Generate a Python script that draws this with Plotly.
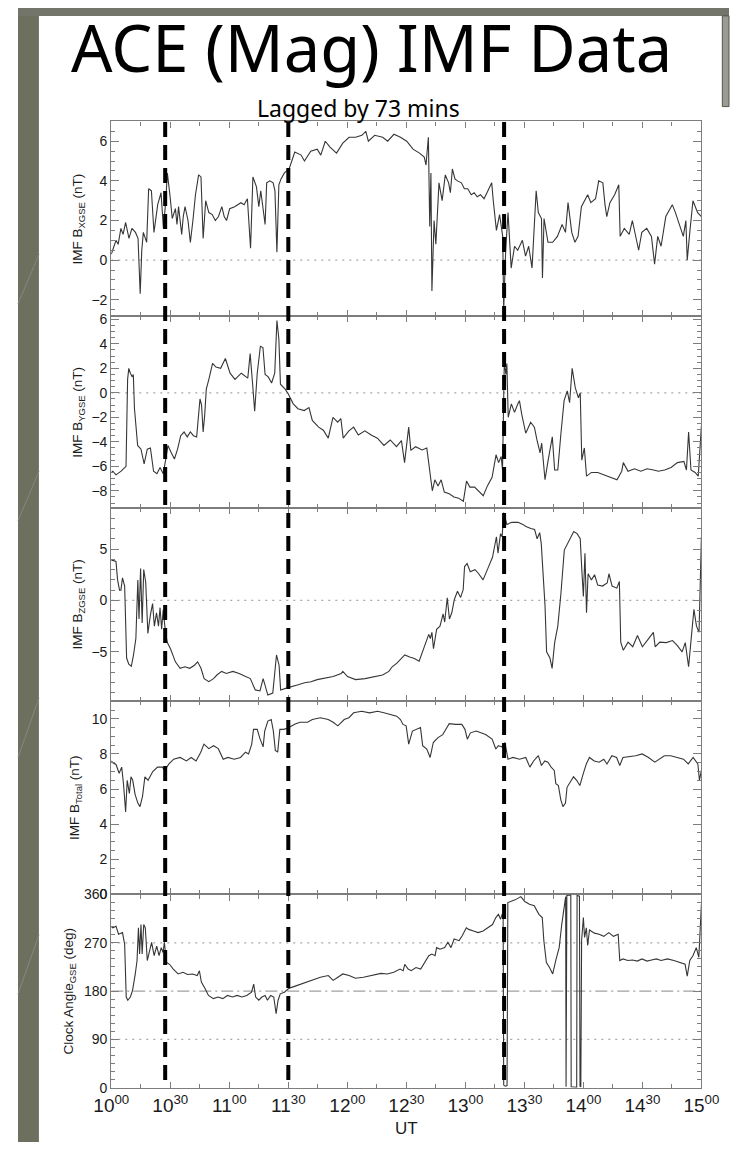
import plotly.graph_objects as go

# ---- IMF data, time in minutes after 10:00 UT (lagged by 73 min) ----
t_bx = [0, 0.8, 2.4, 3.5, 4.9, 6, 7.3, 9, 10.5, 12.3, 13.6, 14.7, 15.5, 16.3, 18, 19, 20.4, 21.7,
        23.6, 25.3, 26.5, 27.7, 28.5, 29.8, 31, 32.6, 33.4, 34.2, 35.0, 35.8, 36.6, 37.5, 39, 40.2,
        41.5, 42.8, 44.4, 45.6, 46.7, 48, 49.6, 51.3, 52.9, 54.5, 56.2, 57.4, 58.6, 60.2, 62.7,
        65.9, 67.5, 69.2, 70.8, 72, 73.8, 75, 76, 77.4, 78.2, 79, 80.6, 82.3, 83.2, 84.2, 85.2,
        86.3, 88, 90.4, 91.7, 93.3, 96.5, 98.2, 101.4, 104.7, 106.5, 108.8, 111.2, 114.5, 117.7,
        120.9, 124.2, 127.4, 129.4, 130.7, 133.9, 138, 140.5, 143.7, 147, 150.2, 153.4, 156.7,
        159.1, 160, 161.2, 161.9, 162.5, 163, 164.1, 165, 166.6, 168.2, 169.8, 171.5, 172.4,
        173.4, 174.7, 176, 178, 179.5, 181.2, 183, 184.5, 186, 187.7, 189.5, 191, 193.4, 194.2,
        195.8, 197.4, 199.0, 199.5, 200.5, 201.7, 203.3, 205, 206.6, 209, 210.6, 212.2, 213.9,
        216, 217.1, 218.7, 219.2, 220, 222, 224.4, 226.8, 229.2, 230.9, 232.2, 234.1, 235.7,
        237.3, 239, 240.6, 242.2, 243.8, 246.2, 247.8, 249.9, 251, 251.9, 253.5, 255.9, 258,
        258.7, 260.8, 263.3, 264.9, 266.5, 268.1, 269.7, 272.2, 274.6, 276.2, 277.8, 279.5,
        281.9, 285.2, 286.8, 289.2, 290.8, 292.1, 292.8, 294.1, 295.7, 298.1, 300]
bx = [0.3, 0.5, 1.0, 0.8, 1.6, 1.3, 1.9, 1.1, 1.6, 1.4, 1.1, -1.7, 0.5, 1.4, 0.9, 3.6, 3.5, 1.4,
      2.8, 3.4, 1.6, 3.0, 4.4, 3.3, 2.1, 2.6, 1.8, 2.7, 2.0, 1.3, 2.2, 2.7, 2.0, 0.9,
      2.0, 3.3, 4.3, 4.2, 1.1, 3.0, 2.4, 2.3, 2.0, 2.2, 2.7, 2.2, 2.0, 2.6, 2.7,
      2.9, 2.8, 3.1, 0.6, 4.2, 3.7, 2.7, 3.5, 2.5, 1.8, 3.9, 4.0, 3.9, 3.5, 0.4, 3.8,
      4.1, 4.4, 4.6, 5.0, 5.45, 5.3, 5.0, 5.5, 5.6, 5.3, 6.0, 5.7, 5.4, 5.9,
      6.2, 6.2, 6.3, 6.5, 6.0, 6.3, 6.2, 6.0, 6.35, 6.2, 6.0, 5.6, 5.4,
      5.2, 4.8, 6.2, 1.7, 4.4, -1.55, 2.0, 0.8, 3.9, 3.0, 4.3, 3.9, 3.4,
      4.6, 4.1, 4.0, 3.9, 3.6, 3.6, 3.3, 3.4, 3.2, 3.3, 3.1, 3.4, 3.9, 3.0,
      1.5, 2.3, 1.2, -2.5, 0.5, 2.4, -0.4, 0.7, 0.5, 1.0, 0.2, 0.7, -0.4,
      3.5, 2.4, 2.1, -0.9, 2.1, 0.9, 0.9, 1.2, 1.8, 1.4, 2.9, 1.4, 0.9,
      1.2, 2.7, 3.0, 3.3, 2.9, 3.1, 4.0, 3.9, 2.8, 2.2, 2.9, 3.3, 3.8,
      1.2, 1.6, 1.3, 2.0, 1.2, 0.5, 1.4, 1.6, 1.2, -0.2, 1.2, 0.7,
      2.2, 2.8, 2.4, 1.6, 1.2, 2.0, 0.0, 1.4, 3.0, 2.4, 2.2]

t_by = [0, 0.8, 2.4, 5, 7.5, 8.3, 8.9, 9.7, 10.7, 11.2, 11.8, 13.4, 15.1, 16.7, 18.3, 19.9, 21.5,
        23.2, 24.8, 26.4, 27.5, 28.8, 30.5, 32.1, 33.7, 35.3, 37, 38.6, 40.2, 41.8, 43.4, 45.1,
        45.9, 46.7, 47.5, 48.3, 49.6, 51.5, 53.2, 55.6, 58, 60.4, 62.9, 66.1, 69.4, 70.6, 71.8,
        72.9, 74.2, 75.8, 77.1, 78.2, 79.8, 81.5, 83.1, 84.2, 85.2, 86.0, 88.4, 90, 92.5, 94.9,
        98.1, 100.5, 102.2, 105.4, 107.8, 110.3, 112.7, 115.1, 116.7, 117.9, 120.8, 123.2,
        125.6, 128.9, 132.1, 135.3, 138.6, 141.8, 145, 147.5, 149.1, 149.9, 151.2, 152.3,
        154.7, 158, 160.4, 161.2, 162.5, 163.2, 164.5, 166.1, 167.7, 169.3, 171.8, 174.2,
        176.6, 179, 180.6, 182.3, 184.7, 187.1, 189.1, 191.2, 193.6, 195.6, 196.9, 198.2,
        198.9, 199.8, 200.6, 201.1, 201.8, 203.4, 205, 206.7, 207.5, 208.6, 210.7, 213.2,
        215.1, 216.4, 218, 218.8, 220.5, 222.1, 224.2, 225.4, 227, 228.6, 230.2, 231.8, 233,
        234.3, 235.9, 237.5, 238.4, 239.2, 240.5, 241.6, 244.1, 247.3, 250.6, 253.8, 257.1,
        259.5, 260.3, 262.7, 266, 269.2, 272.4, 275.7, 278.1, 281.3, 284.6, 287.8, 291.1,
        292.4, 293.5, 294.7, 296.8, 298.4, 300]
by = [-6.5, -6.4, -6.7, -6.4, -6.0, 1.1, 2.0, 1.6, 1.3, 1.5, -1.3, -4.3, -4.6, -5.8, -4.6, -4.5, -6.4,
      -6.6, -6.1, -6.6, -5.6, -4.3, -4.9, -5.4, -4.6, -3.5, -3.2, -3.6, -3.2, -3.5, -3.6, -0.5,
      -1.0, -3.2, -1.8, 0.3, 1.1, 2.4, 2.1, 2.0, 2.8, 1.6, 1.1, 1.6, 1.2, 3.2, 0.8,
      -1.5, 1.6, 3.8, 3.7, 1.5, 1.3, 0.8, 1.6, 5.9, 4.4, 0.7, 0.3, -0.1, -0.9, -1.3,
      -1.45, -1.2, -2.25, -2.8, -3.05, -3.7, -2.0, -2.4, -2.1, -3.7, -3.1, -2.8,
      -3.45, -3.1, -3.45, -3.7, -4.3, -3.85, -4.4, -3.9, -5.7, -4.4, -2.8, -4.7,
      -4.4, -4.66, -4.5, -5.5, -7.1, -8.0, -7.1, -7.6, -7.1, -8.1, -8.25, -8.5,
      -8.6, -8.85, -7.2, -7.7, -7.7, -8.1, -8.4, -7.6, -6.9, -5.06, -5.7, -5.2,
      -6.3, 2.57, 1.5, 2.4, -2.0, -0.9, -1.6, -0.9, -0.64, -1.7, -3.3, -2.4,
      -2.8, -3.85, -4.9, -4.1, -7.1, -5.5, -3.6, -6.3, -6.3, -3.3, -0.64, 0.16, -0.8,
      2.0, 0.4, -0.4, 0.0, -5.5, -4.5, -6.8, -6.5, -6.5, -6.7, -6.9, -7.1,
      -6.4, -5.7, -6.4, -6.2, -6.4, -6.2, -6.3, -6.4, -6.3, -6.1, -5.7, -5.6,
      -6.3, -3.2, -6.3, -6.5, -6.8, -2.7]

t_bz = [0, 0.8, 2.4, 3.2, 4.2, 4.9, 5.7, 6.8, 7.8, 8.9, 10.2, 11.3, 12.5, 13.5, 14.1, 14.9, 15.7,
        16.5, 17.5, 18.6, 19.9, 21, 21.9, 23, 24, 24.8, 25.6, 26.4, 27.6, 28.5, 30.1, 32.6, 35,
        37.4, 39.9, 42.3, 43.9, 45.6, 47.2, 49.6, 52, 53.7, 56.1, 58.5, 61.8, 65, 68.3, 70.7,
        73.2, 75.6, 77.2, 78, 79.6, 82.1, 84, 85.3, 86.1, 89.4, 91.8, 95, 98.3, 101.5, 104.7,
        108, 112.8, 116.9, 117.7, 120.1, 124.2, 129, 133.9, 137.9, 141.1, 142.8, 145.2, 147.6,
        149.2, 151.7, 154.1, 156.5, 158.1, 159.8, 161.4, 162.2, 163, 163.8, 165.4, 167.1,
        168.7, 169.5, 170.8, 171.9, 173.1, 174.4, 176, 177.6, 178.9, 179.6, 180.9, 182.5,
        184.9, 186.6, 189, 191.4, 193.8, 195.8, 196.6, 197.9, 198.7, 199.5, 201.1, 203.6,
        206.8, 209.2, 210.8, 213.3, 215.2, 216.5, 217.8, 218.6, 219.4, 220.5, 221.3, 223,
        224.1, 225.4, 227, 228.6, 230.3, 231.9, 233.5, 235.1, 236.8, 238.4, 239.2, 240,
        240.8, 241.6, 242.4, 244.1, 245.7, 247.3, 249.7, 252.1, 253, 254.6, 257, 258.3, 259,
        260.3, 262.7, 265.1, 267.5, 270, 272.4, 275.6, 276.5, 278.9, 282.1, 285.3, 287.8,
        290.2, 291.8, 293.5, 295.1, 296.2, 297.5, 298.8, 300]
bz = [3.9, 3.9, 3.8, 2.0, 1.0, 1.0, 2.2, 1.4, -5.6, -6.2, -6.4, -5.3, -3.7, 2.0, -1.8, 3.1, -2.2,
      3.0, 1.8, -3.2, -1.4, -0.3, -2.5, -1.2, -2.5, -0.7, -2.8, -0.9, -3.2, -4.1, -4.7, -5.97, -6.6,
      -6.45, -6.6, -6.3, -5.97, -6.6, -7.6, -7.9, -7.6, -7.25, -6.9, -7.1, -6.9, -7.1, -7.4, -7.6,
      -8.7, -8.8, -7.6, -8.2, -9.2, -9.0, -5.3, -6.3, -8.7, -8.5, -8.4, -8.2, -8.0, -7.9, -7.7,
      -7.6, -7.4, -7.1, -6.9, -7.4, -7.7, -7.6, -7.4, -7.25, -6.9, -6.45, -6.1, -5.65,
      -5.3, -5.5, -5.65, -5.9, -5.0, -4.05, -3.3, -3.7, -3.1, -4.7, -2.8, -2.5,
      -1.3, -2.1, 0.26, -1.8, -1.2, 0.1, 0.9, 0.3, 1.05, 3.3, 3.6, 2.8,
      3.0, 2.65, 2.0, 3.1, 4.2, 6.2, 4.6, 6.5, 6.2, 8.55, 7.4, 7.6,
      7.6, 7.4, 7.2, 7.0, 6.9, 6.0, 6.6, 5.5, 3.0, -0.5, -5.0, -5.6,
      -6.6, -4.1, -2.5, 0.7, 4.9, 5.5, 6.2, 6.7, 6.5, 6.0, 3.0, 0.4,
      4.6, -1.2, 2.6, 2.0, 2.5, 1.5, 1.4, 1.7, 2.6, 1.4, 1.2, 1.85, -4.05,
      -4.85, -4.05, -4.5, -3.4, -4.5, -3.9, -3.1, -4.5, -4.05, -4.1, -3.9, -4.4,
      -5.0, -4.1, -6.45, -3.1, -0.86, -2.5, -3.1, 6.2]

t_bt = [0, 0.8, 2.4, 4, 5.3, 6.2, 7.3, 8.1, 9.2, 10, 10.9, 12.1, 13.5, 14.6, 15.9, 17.1, 18.7, 21.1,
        23.5, 26, 27.1, 29.3, 31.7, 35, 38.2, 40.6, 43.1, 45.5, 47.1, 49.6, 52, 54.4, 56.9, 59.3,
        62.5, 65.7, 68.2, 69.8, 71.4, 72.3, 74.2, 75.5, 77.2, 78, 79.6, 81.3, 82.4, 83.4, 84.6,
        85.7, 87.8, 90.3, 93.5, 95.9, 99.8, 102.2, 106.3, 110.3, 112.8, 115.2, 118.4, 120.8,
        123.2, 127.3, 131.3, 135.4, 138.6, 141.8, 145.1, 147, 148.3, 149.9, 151.2, 153.1,
        155.5, 157.2, 158.3, 160.4, 162.1, 163.7, 166.1, 168.5, 170.1, 171.8, 175, 178.2,
        179.8, 181, 182.6, 185.5, 187.9, 190.3, 193.6, 195.5, 196.8, 198.5, 200.1, 201.7,
        204.2, 207.5, 210.7, 212.8, 214.7, 217.1, 218.7, 220.4, 222, 223.6, 225.2, 226,
        227.3, 228.5, 229.6, 230.9, 231.7, 233.4, 235, 236.6, 238.2, 239.9, 241.5, 243.1,
        245.5, 248, 250.4, 252, 254.5, 256.9, 258.5, 260.1, 263.4, 266.6, 269.9, 273.1,
        276.3, 278.8, 281.2, 284.4, 287.7, 290.9, 293.3, 295.8, 298.2, 299, 300]
bt = [7.6, 7.5, 7.4, 6.9, 7.25, 6.3, 4.7, 6.5, 5.75, 6.7, 6.5, 5.7, 5.2, 5.0, 5.6, 6.7, 6.5, 7.0,
      7.25, 7.25, 7.06, 7.43, 7.7, 7.8, 7.6, 7.8, 7.6, 8.1, 8.56, 8.3, 8.47, 8.3, 7.7, 7.8,
      7.7, 7.8, 8.1, 8.0, 8.56, 9.4, 9.4, 8.9, 8.4, 9.3, 9.87, 9.96, 9.3, 8.2, 8.1,
      9.4, 9.4, 9.5, 9.7, 9.8, 9.8, 9.96, 10.06, 9.96, 9.8, 9.6, 9.96, 10.06,
      10.34, 10.43, 10.34, 10.43, 10.34, 10.24, 10.15, 9.96, 9.68, 9.6, 8.56, 9.3,
      9.4, 9.5, 8.47, 8.28, 7.8, 8.65, 8.93, 9.1, 9.4, 9.72, 9.68, 9.68,
      9.4, 8.84, 9.2, 9.3, 9.2, 9.1, 8.84, 8.28, 8.47, 8.4, 8.65, 7.7,
      7.8, 7.7, 7.8, 7.25, 7.6, 7.9, 7.34, 7.6, 7.53, 7.25, 7.06, 6.3,
      6.2, 5.4, 5.0, 5.2, 6.1, 6.4, 6.7, 6.5, 6.2, 6.87, 7.43, 7.8,
      7.6, 7.53, 7.7, 7.43, 7.9, 7.8, 7.34, 7.8, 7.85, 7.9, 8.0, 7.8,
      7.53, 7.7, 7.9, 7.9, 7.8, 7.7, 7.43, 7.8, 7.43, 6.5, 7.06]

t_ca = [0, 0.8, 2.4, 3.7, 5.7, 6.8, 7.6, 8.4, 9.7, 10.8, 12.2, 13.1, 13.8, 14.4, 15.1, 15.7, 16.5,
        17.3, 18.3, 19.4, 20.5, 21.8, 23.1, 24.3, 25.4, 26.3, 27, 28, 29.6, 31.5, 34, 36.4, 38.8,
        41.3, 43.7, 44.8, 45.8, 47.8, 49.4, 51.9, 54.3, 56.7, 59.1, 61.6, 64, 66.4, 68.9, 71.3,
        72.4, 73.4, 75, 76.6, 78.2, 79.4, 81, 82.6, 83.8, 84.8, 85.9, 88, 89.9, 91.7, 96.6,
        101.4, 106.3, 110.3, 112.8, 115.2, 117.7, 120.9, 124.1, 128.2, 132.2, 137.1, 140.3,
        143.6, 146.8, 148.4, 149.2, 150.9, 152.5, 154.9, 157.3, 159.8, 161.4, 163, 164.6,
        165.4, 167.1, 169.5, 171.1, 172.7, 174.3, 176.8, 178.4, 180.5, 181.7, 184.1, 186.5,
        189, 191.4, 193.8, 195.5, 196.8, 197.9, 198.7, 199.2, 199.5, 200.3, 201.2, 201.6,
        202.9, 205.3, 208.2, 210.2, 212.6, 215, 217.4, 219.1, 219.9, 221.2, 222.8, 224.4,
        226.1, 227.7, 229, 230.3, 231.0, 231.2, 231.6, 233.6, 233.8, 236.6, 236.8, 238.0,
        238.3, 238.7, 239.1, 240, 240.6, 241.5, 242.2, 243.1, 245.6, 248, 250.4, 252.9,
        255.3, 257.7, 258.5, 260.1, 262.6, 265, 267.4, 269.8, 272.3, 274.7, 277.1, 279.5,
        282.8, 286, 289.3, 291.7, 292.8, 294.1, 295.7, 297.4, 298.7, 299.8, 300]
ca = [300, 298, 301, 286, 289, 267, 169, 163, 169, 181, 212, 237, 298, 249, 304, 249, 304,
      298, 237, 255, 271, 246, 264, 246, 261, 252, 271, 234, 230, 221, 212, 215, 211,
      212, 209, 218, 197, 184, 172, 166, 169, 166, 172, 169, 172, 169, 172, 178,
      193, 169, 163, 169, 172, 163, 172, 169, 138, 163, 175, 178, 184, 187, 193,
      200, 206, 209, 200, 206, 212, 209, 204, 206, 209, 213, 212,
      215, 221, 218, 230, 221, 218, 224, 221, 237, 246, 249, 246,
      261, 258, 261, 271, 261, 277, 274, 283, 298, 295, 292, 289,
      292, 298, 304, 317, 323, 314, 323, 323, 5, 3, 4, 345,
      347, 350, 356, 347, 342, 339, 323, 317, 274, 233, 224, 212,
      239, 261, 304, 345, 356, 2, 358, 359, 2, 1, 358, 357,
      3, 2, 274, 317, 280, 298, 265, 294, 288, 286, 282, 289,
      282, 286, 237, 240, 237, 238, 236, 240, 236, 238, 240, 237,
      240, 237, 233, 230, 208, 237, 246, 261, 243, 338, 342]

# x-axis tick labels (every 30 min)
tick_minutes = [0, 30, 60, 90, 120, 150, 180, 210, 240, 270, 300]
tick_labels = ["10<sup>00</sup>", "10<sup>30</sup>", "11<sup>00</sup>", "11<sup>30</sup>",
               "12<sup>00</sup>", "12<sup>30</sup>", "13<sup>00</sup>", "13<sup>30</sup>",
               "14<sup>00</sup>", "14<sup>30</sup>", "15<sup>00</sup>"]

# event markers (minutes after 10:00)
event_minutes = [27.4, 90.0, 199.7]

panel_titles = ["IMF B<sub>XGSE</sub> (nT)", "IMF B<sub>YGSE</sub> (nT)", "IMF B<sub>ZGSE</sub> (nT)",
                "IMF B<sub>Total</sub> (nT)", "Clock Angle<sub>GSE</sub> (deg)"]

# ---- page geometry (pixels) ----
W, H = 747, 1150
X0, X1 = 98, 718
panel_px = [(115, 312), (312, 507), (507, 703), (703, 899), (899, 1095)]
title_x_px = [64, 64, 64, 61, 54]

y_ranges = [[-2.8, 7.0], [-9.4, 6.3], [-9.8, 9.0], [0, 11], [0, 360]]
y_dticks = [2, 2, 5, 2, 90]
y_minor = [0.5, 0.5, 1, 0.5, 15]

series = [(t_bx, bx), (t_by, by), (t_bz, bz), (t_bt, bt), (t_ca, ca)]

AXIS_GREY = "#7d7d7d"
TRACE = "#363636"
SLIDE_GREY = "#6e705f"
FONT = "Liberation Sans, Arial, Helvetica, sans-serif"
TITLE_FONT = "Noto Sans, DejaVu Sans, sans-serif"


def px_x(x):
    return x / W


def px_y(y):
    return 1 - y / H


fig = go.Figure()
layout = dict(
    width=W, height=H,
    margin=dict(l=0, r=0, t=0, b=0),
    paper_bgcolor="white",
    plot_bgcolor="white",
    showlegend=False,
    font=dict(family=FONT, color="#222222"),
)

for i, ((tt, vv), (top, bot)) in enumerate(zip(series, panel_px)):
    n = "" if i == 0 else str(i + 1)
    fig.add_trace(go.Scatter(x=tt, y=vv, mode="lines", xaxis="x" + n, yaxis="y" + n,
                             line=dict(color=TRACE, width=1.1), hoverinfo="skip"))
    last = i == 4
    layout["xaxis" + n] = dict(
        domain=[px_x(X0), px_x(X1)], anchor="y" + n, range=[0, 300],
        showline=True, linecolor=AXIS_GREY, linewidth=1.2, mirror="allticks",
        ticks="inside", ticklen=6, tickcolor=AXIS_GREY, tickwidth=1,
        tickvals=tick_minutes, ticktext=tick_labels if last else None,
        showticklabels=last, tickfont=dict(size=19, color="#1a1a1a", family=FONT),
        minor=dict(dtick=15, tick0=0, ticks="inside", ticklen=4, tickcolor=AXIS_GREY),
        showgrid=False, zeroline=False, fixedrange=True,
    )
    if i > 0:
        layout["xaxis" + n]["matches"] = "x"
    layout["yaxis" + n] = dict(
        domain=[px_y(bot), px_y(top)], anchor="x" + n, range=y_ranges[i],
        showline=True, linecolor=AXIS_GREY, linewidth=1.2, mirror="allticks",
        ticks="inside", ticklen=8, tickcolor=AXIS_GREY, tickwidth=1,
        dtick=y_dticks[i], tick0=0, tickfont=dict(size=14, color="#1a1a1a", family=FONT),
        minor=dict(dtick=y_minor[i], tick0=0, ticks="inside", ticklen=4, tickcolor=AXIS_GREY),
        showgrid=False, zeroline=False, fixedrange=True,
    )

shapes = []
# slide frame: grey strips around the white page
shapes.append(dict(type="rect", xref="paper", yref="paper", x0=0, x1=px_x(22), y0=0, y1=1,
                   fillcolor=SLIDE_GREY, line=dict(width=0), layer="below"))
shapes.append(dict(type="rect", xref="paper", yref="paper", x0=0, x1=1, y0=px_y(8), y1=1,
                   fillcolor="#73756a", line=dict(width=0), layer="below"))
shapes.append(dict(type="rect", xref="paper", yref="paper", x0=px_x(740), x1=1, y0=px_y(100), y1=px_y(8),
                   fillcolor="#9a9b92", line=dict(color="#55574c", width=1), layer="below"))
# faint grid lines of the slide template in the left strip
for ya, yb in [(300, 250), (520, 470), (760, 700), (1000, 940)]:
    shapes.append(dict(type="line", xref="paper", yref="paper", x0=0, x1=px_x(22),
                       y0=px_y(ya), y1=px_y(yb), line=dict(color="#85877a", width=1), layer="below"))

# reference lines inside panels
for n in ["", "2", "3"]:
    shapes.append(dict(type="line", xref="x" + n, yref="y" + n, x0=0, x1=300, y0=0, y1=0,
                       line=dict(color="#a8a8a8", width=1.3, dash="2px,5px"), layer="below"))
for lvl in [90, 270]:
    shapes.append(dict(type="line", xref="x5", yref="y5", x0=0, x1=300, y0=lvl, y1=lvl,
                       line=dict(color="#a8a8a8", width=1.3, dash="2px,5px"), layer="below"))
shapes.append(dict(type="line", xref="x5", yref="y5", x0=0, x1=300, y0=180, y1=180,
                   line=dict(color="#a0a0a0", width=1.3, dash="12px,4px,2px,4px"), layer="below"))

# event markers spanning all panels
for em in event_minutes:
    shapes.append(dict(type="line", xref="x5", yref="paper", x0=em, x1=em,
                       y0=px_y(1087), y1=px_y(115),
                       line=dict(color="black", width=4, dash="15px,8px"), layer="above"))
layout["shapes"] = shapes

annotations = [
    dict(text="ACE (Mag) IMF Data", xref="paper", yref="paper", x=px_x(371), y=px_y(40),
         xanchor="center", yanchor="middle", showarrow=False,
         font=dict(family=TITLE_FONT, size=65, color="black")),
    dict(text="Lagged by 73 mins", xref="paper", yref="paper", x=px_x(358), y=px_y(101),
         xanchor="center", yanchor="middle", showarrow=False,
         font=dict(family=TITLE_FONT, size=23, color="black")),
    dict(text="UT", xref="paper", yref="paper", x=px_x(408), y=px_y(1136),
         xanchor="center", yanchor="middle", showarrow=False,
         font=dict(family=FONT, size=17, color="#1a1a1a")),
]
for i, (top, bot) in enumerate(panel_px):
    annotations.append(dict(text=panel_titles[i], xref="paper", yref="paper",
                            x=px_x(title_x_px[i]), y=px_y((top + bot) / 2),
                            xanchor="center", yanchor="middle", textangle=-90, showarrow=False,
                            font=dict(family=FONT, size=13.5, color="#1a1a1a")))
layout["annotations"] = annotations

fig.update_layout(**layout)
fig.write_html("out.html")
